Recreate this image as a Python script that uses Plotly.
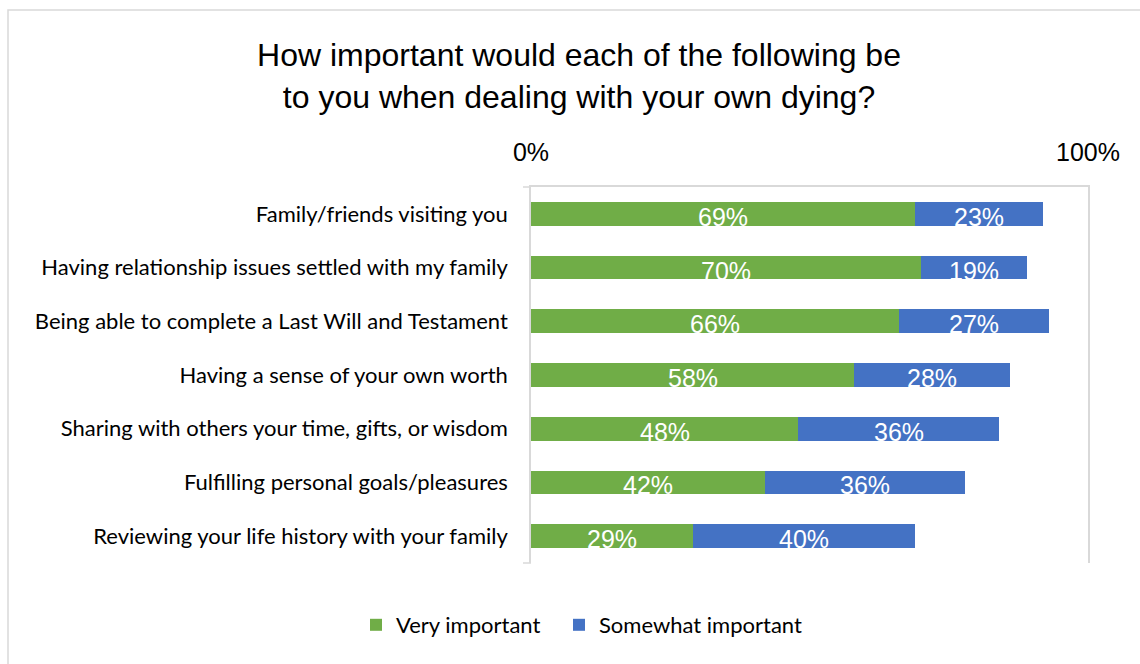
import plotly.graph_objects as go

categories = [
    "Family/friends visiting you",
    "Having relationship issues settled with my family",
    "Being able to complete a Last Will and Testament",
    "Having a sense of your own worth",
    "Sharing with others your time, gifts, or wisdom",
    "Fulfilling personal goals/pleasures",
    "Reviewing your life history with your family",
]
very_important = [69, 70, 66, 58, 48, 42, 29]
somewhat_important = [23, 19, 27, 28, 36, 36, 40]
series_names = ["Very important", "Somewhat important"]
tick_values = [0, 100]
tick_labels = ["0%", "100%"]

GREEN = "#70AD47"
BLUE = "#4472C4"
GRID = "#D9D9D9"

fig = go.Figure()
fig.add_trace(go.Bar(
    y=categories, x=very_important, orientation="h", name=series_names[0],
    marker=dict(color=GREEN, line=dict(width=0)), hoverinfo="x+y", legend="legend",
))
fig.add_trace(go.Bar(
    y=categories, x=somewhat_important, orientation="h", name=series_names[1],
    marker=dict(color=BLUE, line=dict(width=0)), hoverinfo="x+y", legend="legend2",
))

label_font = dict(family="Liberation Sans, Arial", size=25, color="white")
annotations = []
for cat, v, s in zip(categories, very_important, somewhat_important):
    annotations.append(dict(x=v / 2, y=cat, xref="x", yref="y", text=f"{v}%",
                            showarrow=False, yshift=-3, font=label_font))
    annotations.append(dict(x=v + s / 2, y=cat, xref="x", yref="y", text=f"{s}%",
                            showarrow=False, yshift=-3, font=label_font))

W, H = 1140, 664
L, R, T, B = 531, 1088, 187, 563
pw, ph = R - L, B - T

def px_x(p):
    return (p - L) / pw

def px_y(p):
    return (B - p) / ph

shapes = [
    dict(type="rect", xref="paper", yref="paper", x0=px_x(8), x1=px_x(W + 50),
         y0=px_y(H + 50), y1=px_y(10), line=dict(color=GRID, width=1.5), layer="below"),
    dict(type="line", xref="paper", yref="paper", x0=px_x(523), x1=0, y0=1, y1=1,
         line=dict(color=GRID, width=1.5)),
    dict(type="line", xref="paper", yref="paper", x0=px_x(523), x1=0, y0=0, y1=0,
         line=dict(color=GRID, width=1.5)),
]

legend_font = dict(family="Lato, Carlito, Calibri", size=22, color="#000000")

fig.update_layout(
    width=W, height=H,
    margin=dict(l=L, r=W - R, t=T, b=H - B, pad=0),
    paper_bgcolor="white", plot_bgcolor="white",
    barmode="stack", bargap=0.56,
    title=dict(
        text="How important would each of the following be<br>to you when dealing with your own dying?",
        x=579 / W, xref="container", xanchor="center",
        y=1 - 66 / H, yref="container", yanchor="middle",
        font=dict(family="Liberation Sans, Arial", size=32, color="#000000"),
    ),
    xaxis=dict(
        side="top", range=[0, 100], tickvals=tick_values, ticktext=tick_labels,
        showgrid=False, zeroline=False, showline=True, linecolor=GRID, linewidth=1.5,
        ticks="", ticklabelstandoff=14,
        tickfont=dict(family="Liberation Sans, Arial", size=25, color="#000000"),
    ),
    yaxis=dict(
        autorange="reversed", showgrid=False, zeroline=False,
        showline=True, mirror=True, linecolor=GRID, linewidth=1.5,
        ticks="", ticklabelstandoff=17,
        tickfont=dict(family="Lato, Carlito, Calibri", size=22, color="#000000"),
    ),
    legend=dict(
        orientation="h", x=px_x(356), xanchor="left", y=px_y(625), yanchor="middle",
        font=legend_font, itemwidth=30, bgcolor="rgba(0,0,0,0)",
    ),
    legend2=dict(
        orientation="h", x=px_x(559), xanchor="left", y=px_y(625), yanchor="middle",
        font=legend_font, itemwidth=30, bgcolor="rgba(0,0,0,0)",
    ),
    annotations=annotations,
    shapes=shapes,
    showlegend=True,
)

fig.write_html("out.html")
